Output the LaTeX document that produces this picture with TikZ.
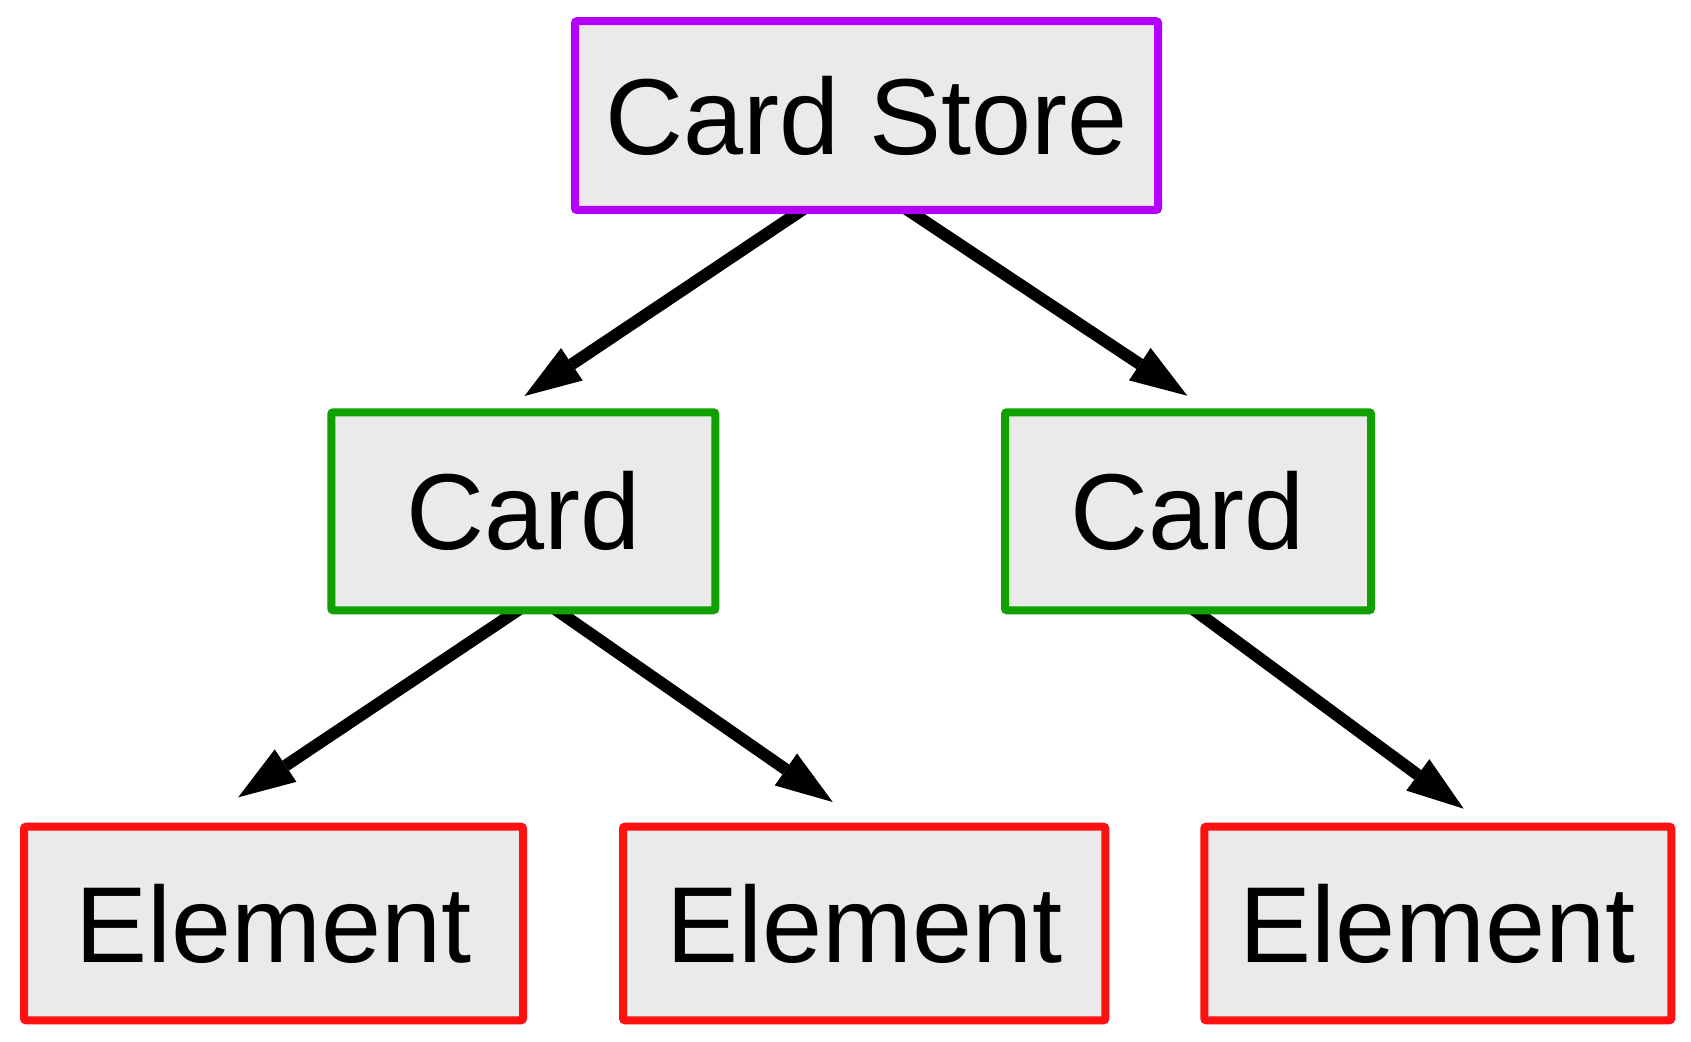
\documentclass[tikz,border=0pt]{standalone}
\usepackage{fontspec}
\setmainfont{Liberation Sans}
\usetikzlibrary{arrows.meta,backgrounds}
\definecolor{boxfill}{RGB}{234,234,234}
\definecolor{storeline}{RGB}{180,0,255}
\definecolor{cardline}{RGB}{16,160,0}
\definecolor{elemline}{RGB}{255,17,17}
\tikzset{
  box/.style={draw, fill=boxfill, line width=4pt, rounded corners=1pt,
    inner sep=0pt, font=\fontsize{54}{60}\selectfont},
  storebox/.style={box, draw=storeline},
  cardbox/.style={box, draw=cardline},
  elembox/.style={box, draw=elemline},
  link/.style={line width=6pt, draw=black,
    -{Triangle[length=28.5pt,width=19.5pt,line width=0pt]}}
}
\begin{document}
\begin{tikzpicture}[x=0.5pt,y=-0.5pt]
\useasboundingbox (0,0) rectangle (1691,1042);
\node[storebox, minimum width=291.5pt, minimum height=94.35pt] (cs) at (866.5,115.6) {Card Store};
\node[cardbox, minimum width=192pt, minimum height=99pt] (c1) at (523.3,511.3) {Card};
\node[cardbox, minimum width=183pt, minimum height=99pt] (c2) at (1188,511.3) {Card};
\node[elembox, minimum width=249.5pt, minimum height=96.8pt] (e1) at (273.5,923.5) {Element};
\node[elembox, minimum width=241.15pt, minimum height=96.8pt] (e2) at (864.2,923.5) {Element};
\node[elembox, minimum width=233.5pt, minimum height=96.8pt] (e3) at (1437.8,923.5) {Element};
\coordinate (t1) at (524.5,396);
\coordinate (t2) at (1187.3,395.7);
\coordinate (t3) at (238.2,797.3);
\coordinate (t4) at (832.7,802);
\coordinate (t5) at (1463.7,808.7);
\begin{pgfonlayer}{background}
\fill[white] (0,0) rectangle (1691,1042);
\draw[link] ([xshift=-23.7pt,yshift=7.65pt]cs.south) -- (t1);
\draw[link] ([xshift=12.1pt,yshift=7.65pt]cs.south) -- (t2);
\draw[link] ([xshift=5.7pt,yshift=7.65pt]c1.south) -- (t3);
\draw[link] ([xshift=8.6pt,yshift=7.65pt]c1.south) -- (t4);
\draw[link] ([xshift=-4.35pt,yshift=7.65pt]c2.south) -- (t5);
\end{pgfonlayer}
\end{tikzpicture}
\end{document}
